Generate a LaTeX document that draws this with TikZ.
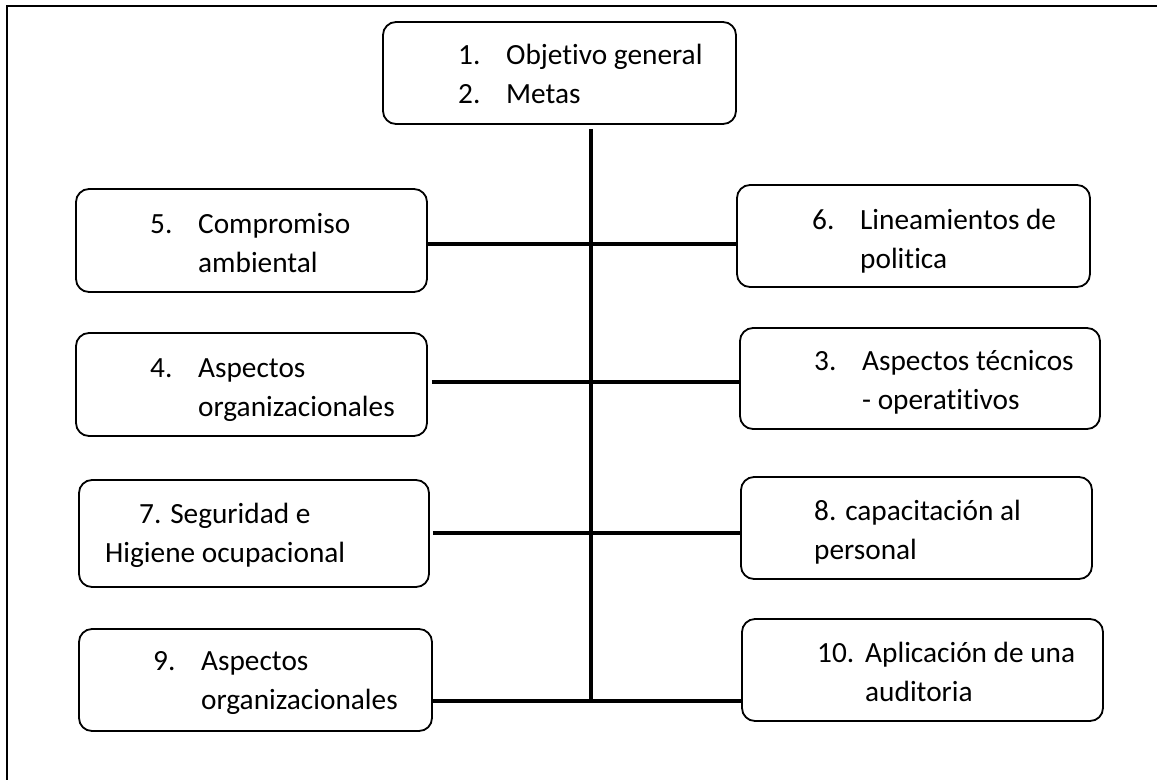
\documentclass[tikz,border=0pt]{standalone}
\usepackage{fontspec}
\setmainfont{Carlito}[Ligatures=NoCommon]
\usetikzlibrary{positioning,calc}
\tikzset{font=\fontsize{29.3}{39}\selectfont}
\tikzset{
	box/.style={draw, rounded corners=13pt, line width=1.8pt, inner sep=0pt},
	txt/.style={anchor=base west, inner sep=0pt},
	conn/.style={line width=3.6pt},
}
% numbered item with a hanging second line
\newcommand{\numitem}[3]{\begin{tabular}[t]{@{}p{48pt}@{}l@{}}#1&#2\\&#3\end{tabular}}
\newcommand{\twolines}[2]{\begin{tabular}[t]{@{}l@{}}#1\\#2\end{tabular}}

\begin{document}
\begin{tikzpicture}[x=1pt, y=-1pt]
	\useasboundingbox (0,0) rectangle (1157,780);
	\draw[line width=2.6pt] (1157,6) -- (7,6) -- (7,780);

	\begin{scope}
		\node[box, minimum width=353pt, minimum height=102pt] (b1) at (559.5,73) {};
		\node[box, minimum width=351pt, minimum height=103pt] (b5) at (251.5,240.5) {};
		\node[box, minimum width=353pt, minimum height=102pt] (b6) at (913.5,236) {};
		\node[box, minimum width=351pt, minimum height=103pt] (b4) at (251.5,384.5) {};
		\node[box, minimum width=360pt, minimum height=101pt] (b3) at (920,378.5) {};
		\node[box, minimum width=350pt, minimum height=107pt] (b7) at (254,533.5) {};
		\node[box, minimum width=351pt, minimum height=102pt] (b8) at (916.5,528) {};
		\node[box, minimum width=353pt, minimum height=102pt] (b9) at (255.5,680) {};
		\node[box, minimum width=361pt, minimum height=102pt] (b10) at (922.5,670) {};

		\node[txt] (t1) at (458,64) {\begin{tabular}[t]{@{}p{48pt}@{}l@{}}1.&Objetivo general\\2.&Metas\end{tabular}};
		\node[txt] (t5) at (150,233) {\numitem{5.}{Compromiso}{ambiental}};
		\node[txt] (t6) at (812,229) {\numitem{6.}{Lineamientos de}{politica}};
		\node[txt] (t4) at (150,377) {\numitem{4.}{Aspectos}{organizacionales}};
		\node[txt] (t3) at (814,370) {\numitem{3.}{Aspectos técnicos}{- operatitivos}};
		\node[txt] (t7) at (105,523) {\twolines{\hspace*{34pt}7. Seguridad e}{Higiene ocupacional}};
		\node[txt] (t8) at (814,520) {\twolines{8. capacitación al}{personal}};
		\node[txt] (t9) at (153,670) {\numitem{9.}{Aspectos}{organizacionales}};
		\node[txt] (t10) at (817,662) {\numitem{10.}{Aplicación de una}{auditoria}};

		\coordinate (s1) at (591,244);
		\coordinate (s2) at (591,382);
		\coordinate (s3) at (591,533);
		\coordinate (s4) at (591,701);

		\draw[conn] ([yshift=-4pt]b1.south -| s4) -- (s4);
		\draw[conn] (b5.east |- s1) -- (b6.west |- s1);
		\draw[conn] ([xshift=4pt]b4.east |- s2) -- (b3.west |- s2);
		\draw[conn] ([xshift=3pt]b7.east |- s3) -- (b8.west |- s3);
		\draw[conn] (b9.east |- s4) -- (b10.west |- s4);
	\end{scope}
\end{tikzpicture}
\end{document}
